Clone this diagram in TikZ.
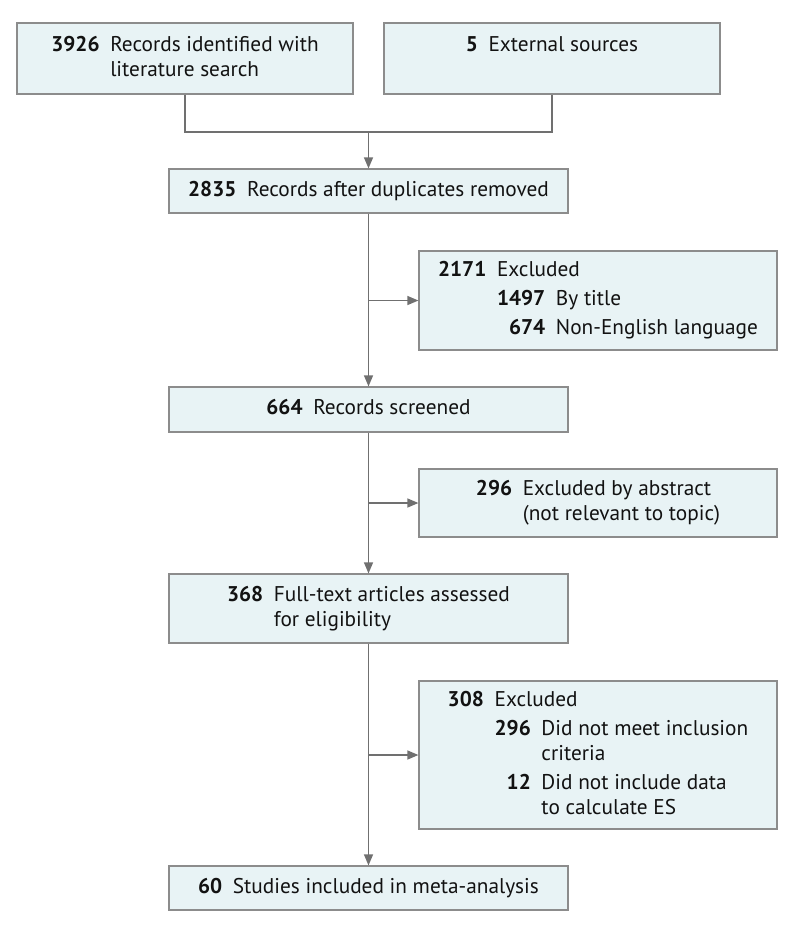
\documentclass[tikz,border=0pt]{standalone}
\usepackage{fontspec}
\setmainfont{PT Sans}
\usetikzlibrary{arrows.meta}
\definecolor{boxfill}{RGB}{232,243,245}
\definecolor{boxline}{RGB}{140,140,140}
\definecolor{flowline}{RGB}{112,112,112}
\definecolor{ink}{RGB}{18,18,18}
\newcommand{\cnt}[1]{\textbf{#1}}
\newcommand{\rows}[1]{\begin{tabular}{@{}r@{\hspace{0.5em}}l@{}}#1\end{tabular}}
\newcommand{\subrows}[1]{\begin{tabular}[t]{@{}r@{\hspace{0.5em}}l@{}}#1\end{tabular}}

\begin{document}
\begin{tikzpicture}[x=1pt,y=-1pt,
  font=\fontsize{21.3}{25}\selectfont,
  stagebox/.style={draw=boxline,fill=boxfill,line width=1.2pt,text=ink,
    inner sep=0pt,minimum width=399pt},
  sourcebox/.style={stagebox,minimum width=336pt,minimum height=71pt},
  exclbox/.style={stagebox,minimum width=358pt},
  flow/.style={draw=flowline,line width=1.3pt},
  arr/.style={flow,-{Triangle[length=11pt,width=9pt]}}]
\useasboundingbox (0,0) rectangle (794,930);
\node[sourcebox] (lit) at (185,58.5) {\rows{\cnt{3926} & Records identified with\\ & literature search}};
\node[sourcebox] (ext) at (552,58.5) {\rows{\cnt{5} & External sources\\ & \strut}};
\coordinate (merge) at (368.5,132);
\node[stagebox,minimum height=44pt] (dup) at (368.5,191) {\rows{\cnt{2835} & Records after duplicates removed}};
\node[exclbox,minimum height=99pt] (excl1) at (598,300.5) {\rows{\cnt{2171} & Excluded\\[4pt]
  & \subrows{\cnt{1497} & By title\\[4pt] \cnt{674} & Non-English language}}};
\node[stagebox,minimum height=45pt] (screen) at (368.5,409.5) {\rows{\cnt{664} & Records screened}};
\node[exclbox,minimum height=68pt] (excl2) at (598,503) {\rows{\cnt{296} & Excluded by abstract\\ & (not relevant to topic)}};
\node[stagebox,minimum height=69pt] (full) at (368.5,608.5) {\rows{\cnt{368} & Full-text articles assessed\\ & for eligibility}};
\node[exclbox,minimum height=148pt] (excl3) at (598,755) {\rows{\cnt{308} & Excluded\\[4pt]
  & \subrows{\cnt{296} & Did not meet inclusion\\ & criteria\\[4pt] \cnt{12} & Did not include data\\ & to calculate ES}}};
\node[stagebox,minimum height=44pt] (incl) at (368.5,888) {\rows{\cnt{60} & Studies included in meta-analysis}};
\draw[flow] (lit.south) |- (merge) -| (ext.south);
\draw[arr] (merge) -- (dup.north);
\draw[arr] (dup.south) -- (screen.north);
\draw[arr] (screen.south) -- (full.north);
\draw[arr] (full.south) -- (incl.north);
\draw[arr] (dup.south |- excl1.west) -- (excl1.west);
\draw[arr] (screen.south |- excl2.west) -- (excl2.west);
\draw[arr] (full.south |- excl3.west) -- (excl3.west);
\end{tikzpicture}
\end{document}
